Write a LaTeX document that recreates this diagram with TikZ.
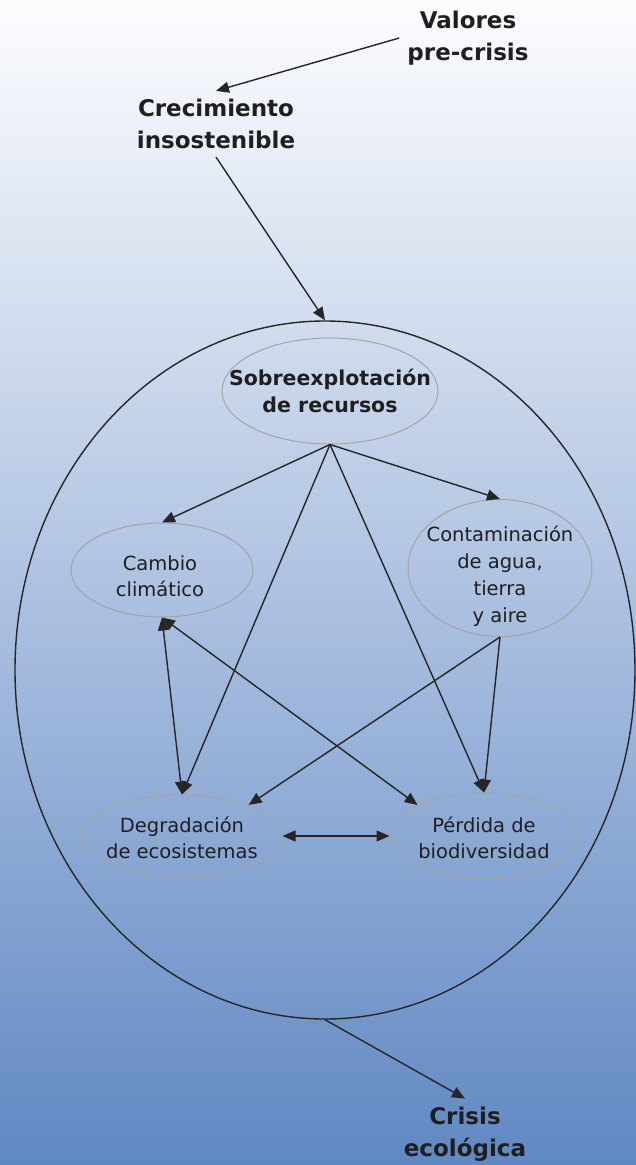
\documentclass[tikz,border=0pt]{standalone}
\usepackage{fontspec}
\setmainfont{DejaVu Sans}
\usetikzlibrary{shapes.geometric,arrows.meta}

\definecolor{bgtop}{RGB}{253,253,255}
\definecolor{bgmid}{RGB}{208,218,235}
\definecolor{bgbot}{RGB}{96,136,195}
\definecolor{linegray}{RGB}{38,38,38}
\definecolor{rimgray}{RGB}{165,165,165}

\begin{document}
\begin{tikzpicture}[x=1pt,y=1pt]
	\tikzstyle{every node}+=[inner sep=0pt, text=black!88, align=center]
	\tikzstyle{outer}=[font=\bfseries\fontsize{23}{32}\selectfont, inner sep=8pt]
	\tikzstyle{bubble}=[ellipse, draw=rimgray, line width=1pt]
	\tikzstyle{words}=[font=\fontsize{19.5}{26}\selectfont]
	\tikzstyle{link}=[draw=linegray, line width=1.4pt, -{Triangle[length=13pt,width=11pt]}]
	\tikzstyle{twoway}=[link, {Triangle[length=13pt,width=11pt]}-{Triangle[length=13pt,width=11pt]}]
	\useasboundingbox (0,0) rectangle (636,-1165);
	\shade [top color=bgtop, middle color=bgmid, bottom color=bgbot] (0,0) rectangle (636,-1165);
	% outer labels
	\node [outer] (val) at (468,-38) {Valores\\pre-crisis};
	\node [outer] (cre) at (216,-124) {Crecimiento\\insostenible};
	\node [outer] (cri) at (465,-1134) {Crisis\\ecológica};
	% big ellipse
	\node [ellipse, draw=linegray, line width=1.4pt, minimum width=620pt, minimum height=698pt] (eco) at (325,-670) {};
	% bubbles
	\node [bubble, minimum width=216pt, minimum height=106pt] (sob) at (330,-391) {};
	\node [bubble, minimum width=182pt, minimum height=94pt] (cam) at (162,-570) {};
	\node [bubble, minimum width=184pt, minimum height=137pt] (con) at (500,-568) {};
	\node [bubble, minimum width=200pt, minimum height=82pt] (deg) at (182,-836) {};
	\node [bubble, minimum width=188pt, minimum height=86pt] (per) at (484,-836) {};
	% bubble texts
	\node [words, font=\bfseries\fontsize{20.5}{27}\selectfont] (sobtxt) at (330,-391) {Sobreexplotación\\de recursos};
	\node [words] (camtxt) at (160,-576) {Cambio\\climático};
	\node [words, font=\fontsize{19.5}{27}\selectfont] (contxt) at (500,-576) {Contaminación\\de agua,\\tierra\\y aire};
	\node [words] (degtxt) at (182,-838) {Degradación\\de ecosistemas};
	\node [words] (pertxt) at (484,-838) {Pérdida de\\biodiversidad};
	% connectors
	\draw [link] (val.west) -- (cre.north);
	\draw [link] (cre.south) -- (eco.north);
	\draw [link] (eco.south) -- (cri.north);
	\draw [link] (sob.south) -- (cam.north);
	\draw [link] (sob.south) -- (con.north);
	\draw [link] (sob.south) -- (deg.north);
	\draw [link] (sob.south) -- (per.north);
	\draw [twoway] (cam.south) -- (deg.north);
	\draw [twoway] (cam.south) -- (per.155);
	\draw [link] (con.south) -- (deg.25);
	\draw [link] (con.south) -- (per.north);
	\draw [twoway] (deg.east) -- (per.west);
\end{tikzpicture}
\end{document}
